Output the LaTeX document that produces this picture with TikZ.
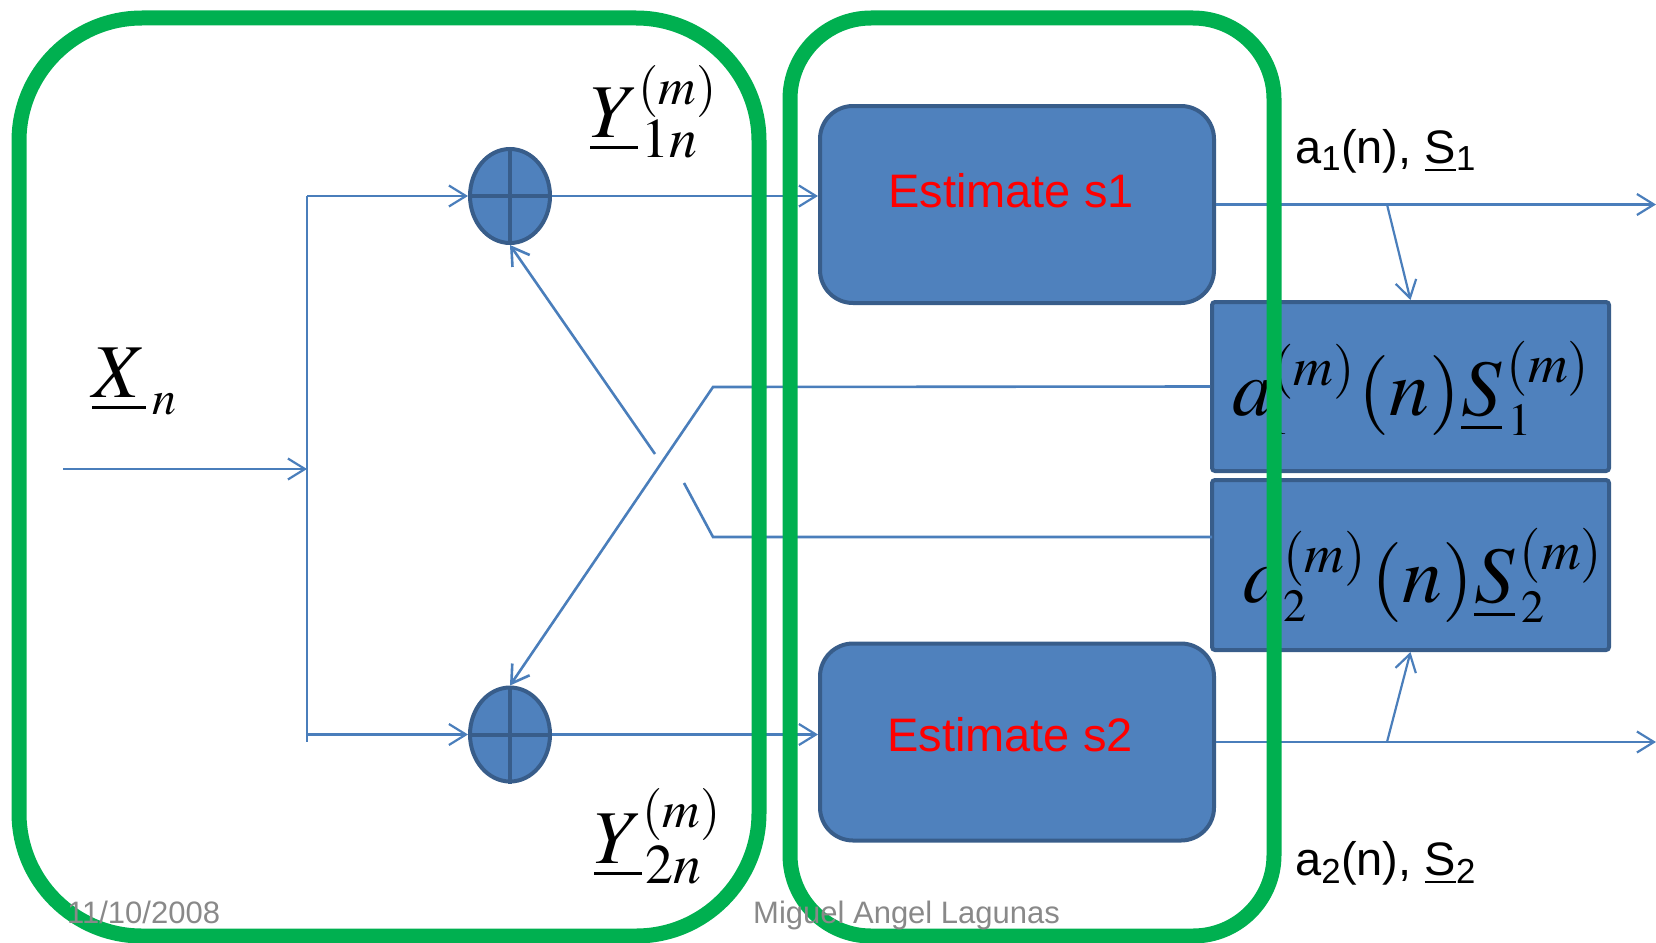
\documentclass[tikz,border=0pt]{standalone}
\usepackage{mathptmx}
\usepackage[no-math]{fontspec}
\setmainfont{Liberation Sans}
\usetikzlibrary{arrows.meta,shapes.geometric}
\DeclareMathSizes{76}{76}{52}{56}
\DeclareMathSizes{80}{80}{55}{46}
\definecolor{boxfill}{HTML}{4F81BD}
\definecolor{boxedge}{HTML}{385D8A}
\definecolor{wire}{HTML}{4A7EBB}
\definecolor{zonegreen}{HTML}{00B050}
\definecolor{footgray}{HTML}{898989}
\newcommand{\bigmath}{\fontsize{76}{80}\selectfont}
\newcommand{\prodmath}{\fontsize{80}{84}\selectfont}
\newcommand{\labfont}{\fontsize{47}{50}\selectfont}
\newcommand{\smalln}{\mbox{\fontsize{48}{50}\selectfont$n$}}
% superscript (m), shifted vertically by #1 from its usual place
\newcommand{\supm}[1]{\raisebox{#1}[0pt][0pt]{$\scriptstyle(m)$}}
\begin{document}
\begin{tikzpicture}[x=1pt,y=-1pt,
  wire/.style={draw=wire,line width=2.2pt},
  arr/.style={wire,-{Straight Barb[length=17pt,width=21pt]}},
  adder/.style={ellipse,draw=boxedge,fill=boxfill,line width=4pt,
    minimum width=80pt,minimum height=94pt,inner sep=0pt},
  cross/.style={draw=boxedge,line width=4pt},
  estbox/.style={rectangle,rounded corners=33pt,draw=boxedge,fill=boxfill,
    line width=4pt,minimum width=394pt,minimum height=197pt,inner sep=0pt},
  prodbox/.style={rectangle,rounded corners=3pt,draw=boxedge,fill=boxfill,
    line width=4pt,minimum width=397pt,minimum height=169pt,inner sep=0pt},
  esttext/.style={anchor=base west,inner sep=0pt,text=red,font=\labfont},
  mathlab/.style={anchor=base west,inner sep=0pt,font=\bigmath},
  prodlab/.style={anchor=base west,inner sep=0pt,font=\prodmath},
  sidelab/.style={anchor=base west,inner sep=0pt,font=\labfont},
  foot/.style={anchor=base west,inner sep=0pt,text=footgray,
    font=\fontsize{31}{34}\selectfont},
  zone/.style={draw=zonegreen,line width=15pt}]
\useasboundingbox (0,0) rectangle (1656,942);

% adders
\node[adder] (add1) at (510,196) {};
\node[adder] (add2) at (510,734.5) {};
\foreach \a in {add1,add2}{
  \draw[cross] (\a.north) -- (\a.south);
  \draw[cross] (\a.west) -- (\a.east);
}

% estimators and product blocks
\node[estbox] (est1) at (1017,204.5) {};
\node[estbox] (est2) at (1017,742) {};
\node[esttext] (est1t) at (888,207) {Estimate s1};
\node[esttext] (est2t) at (887,751) {Estimate s2};
\node[prodbox] (prod1) at (1410.5,386.5) {};
\node[prodbox,minimum height=170pt] (prod2) at (1410.5,565) {};

% labels (sizes: superscripts in script style, subscripts in scriptscript style)
\node[mathlab] (xlab) at (92,397) {$\underline{X}_{\kern7pt\smalln}$};
\node[mathlab] (y1lab) at (590,137) {$\underline{Y}_{\kern3pt\scriptscriptstyle 1n}^{\supm{3pt}}$};
\node[mathlab] (y2lab) at (594,863) {$\underline{Y}_{\kern3pt\scriptscriptstyle 2n}^{\supm{6pt}}$};
\node[prodlab] (p1lab) at (1232,415)
  {$a_{\kern-5pt\scriptscriptstyle 1}^{\supm{0pt}}\kern3pt(n)\kern1pt\underline{S}_{\kern7pt\scriptscriptstyle 1}^{\kern5pt\supm{0pt}}$};
\node[prodlab] (p2lab) at (1243,602)
  {$a_{\scriptscriptstyle 2}^{\supm{0pt}}\kern5pt(n)\kern1pt\underline{S}_{\kern7pt\scriptscriptstyle 2}^{\kern5pt\supm{0pt}}$};
\node[sidelab] (o1lab) at (1295,163) {a\textsubscript{1}(n), \underline{S}\textsubscript{1}};
\node[sidelab] (o2lab) at (1295,875) {a\textsubscript{2}(n), \underline{S}\textsubscript{2}};

% connection points
\coordinate (in) at (63,469);
\coordinate (bus) at (307,469);
\coordinate (bustop) at (307,196);
\coordinate (busbot) at (307,742);
\coordinate (busb2) at (307,734.5);
\coordinate (out1) at (1656,204.5);
\coordinate (out2) at (1656,742);
\coordinate (tap1) at (1387,204.5);
\coordinate (tap2) at (1387,742);
\coordinate (fb1) at (713,387);
\coordinate (fb2in) at (1212,537);
\coordinate (fb2) at (713,537);
\coordinate (gapA) at (684,483);
\coordinate (gapB) at (655,454);

% input and distribution bus
\draw[arr] (in) -- (bus);
\draw[wire,line width=2.8pt] (bustop) -- (busbot);
\draw[arr] (bustop) -- (add1.west);
\draw[arr] (busb2) -- (add2.west);

% adders to estimators
\draw[arr] (add1.east) -- (add1.east -| est1.west);
\draw[arr] (add2.east) -- (add2.east -| est2.west);

% estimator outputs
\draw[arr] (est1.east) -- (out1);
\draw[arr] (est2.east) -- (out2);
\draw[arr] (tap1) -- (prod1.north);
\draw[arr] (tap2) -- (prod2.south);

% cross feedback
\draw[arr,line width=2.6pt] (prod1.west) -- (fb1) -- (add2.north);
\draw[wire,line width=2.6pt] (fb2in) -- (fb2) -- (gapA);
\draw[arr,line width=2.6pt] (gapB) -- (add1.south);

% grouping outlines
\draw[zone,rounded corners=123pt] (19,18) rectangle (759,936);
\draw[zone,rounded corners=81pt] (790,18) rectangle (1274,936);

% footer
\node[foot] (date) at (67,923) {11/10/2008};
\node[foot] (author) at (753,923) {Miguel Angel Lagunas};
\end{tikzpicture}
\end{document}
